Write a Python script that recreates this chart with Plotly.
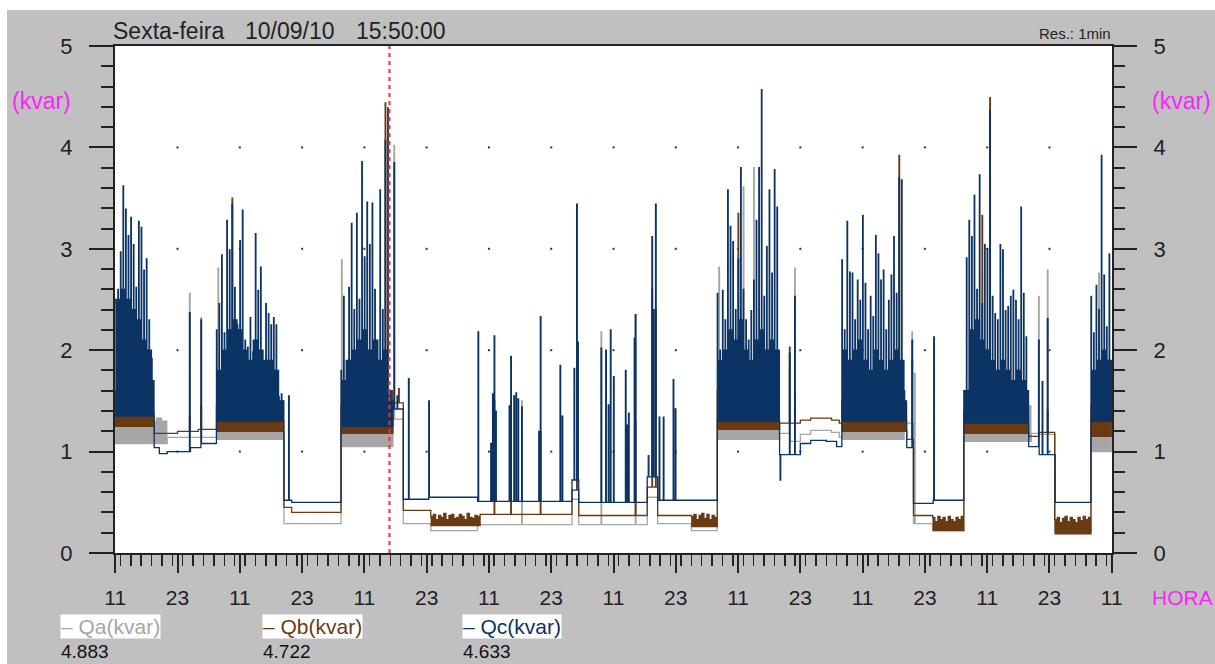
import numpy as np
import pandas as pd
import plotly.graph_objects as go

# ---------------- time frame ----------------
START = "2010-09-08 11:00"      # first tick (11h)
END = "2010-09-16 11:00"        # last tick (11h)
SPAN_H = 192                     # hours shown
CURSOR = "2010-09-10 15:50"      # cursor (red dashed line)

# ---------------- Qc (kvar) : dark blue ----------------
qc_lvl_h = [0, 7.5, 8.5, 10, 14.5, 16.5, 19.5, 32.5, 34, 43.5, 53.5, 55.5, 60.4, 69.8, 88.0, 89.3,
            102.5, 104.5, 116, 128, 132, 134, 137, 139, 140, 152.5, 153.8, 157.6, 163.5, 176, 178,
            181.1, 188]
qc_lvl_v = [1.35, 1.04, 0.98, 1.0, 1.04, 1.08, 1.3, 0.52, 0.5, 1.25, 1.42, 0.53, 0.55, 0.51, 0.72, 0.50,
            0.75, 0.52, 1.3, 0.97, 1.08, 1.11, 1.1, 1.05, 1.3, 1.04, 0.49, 0.52, 1.28, 1.05, 0.97,
            0.50, 1.3]
qc_burst_h = [0, 19.5, 43.5, 116, 140, 163.5, 188]
qc_burst_floor = [1.35, 1.3, 1.25, 1.3, 1.3, 1.28, 1.3]
# half-hour spike tops
qc_peaks_wed1 = [2.45, 2.6, 2.97, 3.62, 3.39, 3.13, 3.31, 3.04, 2.62, 3.27, 3.21, 2.79, 2.9, 2.3, 1.92]
qc_peaks_thu1 = [2.2, 2.46, 2.94, 2.17, 3.28, 2.99, 3.44, 2.62, 2.25, 3.08, 3.38, 2.1, 2.03, 2.32, 1.98,
                 3.15, 2.59, 2.82, 1.77, 2.46, 2.36, 2.25, 2.32, 2.25, 1.54, 1.57]
qc_peaks_fri = [1.8, 2.53, 1.9, 2.62, 3.25, 2.4, 3.35, 2.5, 3.86, 2.92, 3.46, 3.04, 3.45, 2.6, 2.1,
                3.58, 2.4, 4.07, 4.39, 1.6]
qc_peaks_mon = [2.56, 2.0, 2.59, 2.3, 3.58, 3.22, 3.07, 2.4, 2.9, 3.8, 2.6, 2.3, 2.1, 2.39, 2.69, 3.28,
                3.8, 4.57, 2.53, 3.02, 3.58, 2.76, 3.78, 3.41]
qc_peaks_tue = [2.89, 2.2, 3.27, 2.77, 2.76, 2.3, 2.69, 2.49, 3.33, 2.66, 2.2, 2.53, 2.33, 3.13, 2.95,
                2.69, 2.79, 2.2, 2.49, 2.74, 3.12, 2.56, 3.7, 3.68, 1.6]
qc_peaks_wed2 = [1.6, 2.91, 3.28, 3.12, 3.53, 2.6, 3.73, 2.46, 3.04, 3.0, 4.37, 2.53, 2.36, 2.3, 3.04,
                 2.99, 2.39, 2.43, 2.53, 2.59, 2.49, 2.3, 3.41, 2.56, 2.13]
qc_peaks_thu2 = [2.53, 2.17, 2.64, 2.4, 3.92, 2.74, 2.23, 2.95]
# hourly top of the dense blue band
qc_band_wed1 = [2.5, 2.6, 2.5, 2.4, 2.3, 2.1, 2.0, 1.7]
qc_band_thu1 = [1.8, 2.0, 2.2, 2.3, 2.2, 2.0, 1.9, 2.1, 2.0, 1.9, 1.9, 1.8, 1.5]
qc_band_fri = [1.7, 1.9, 2.0, 2.1, 2.2, 2.0, 2.1, 1.9, 2.0, 1.5]
qc_band_mon = [1.9, 2.0, 2.2, 2.1, 2.3, 2.0, 1.9, 2.1, 2.2, 2.0, 2.1, 2.0]
qc_band_tue = [2.0, 1.9, 2.0, 2.1, 1.9, 1.8, 2.0, 1.9, 1.8, 1.9, 2.0, 1.9, 1.5]
qc_band_wed2 = [1.6, 2.2, 2.3, 2.1, 2.0, 1.9, 1.8, 1.9, 1.8, 1.7, 1.8, 1.7, 1.6]
qc_band_thu2 = [1.8, 1.9, 2.0, 1.9]
qc_spk_h = [14.3, 16.5, 33.4, 53.7, 54.3, 56.5, 60.4, 69.9, 72.35, 72.7, 73.0, 73.3, 75.9, 76.2, 76.8,
            77.2, 77.6, 78.3, 81.6, 81.9, 85.7, 86.1, 88.4, 88.9, 89.1, 93.6, 94.5, 95.0, 95.4, 96.0,
            98.3, 98.6, 98.9, 100.0, 100.2, 102.7, 103.4, 103.7, 104.1, 104.8, 105.6, 107.5, 107.9,
            128.1, 129.9, 130.9, 153.5, 157.7, 177.9, 178.6, 179.6]
qc_spk_v = [2.37, 2.3, 1.55, 3.85, 1.55, 1.72, 1.5, 2.18, 1.08, 1.57, 2.14, 1.4, 1.45, 1.94, 1.55,
            1.58, 1.52, 1.44, 1.2, 2.33, 1.85, 1.35, 1.82, 3.44, 2.08, 2.02, 2.0, 1.46, 2.2, 1.74,
            1.8, 1.26, 1.38, 2.12, 2.35, 0.96, 3.12, 2.4, 3.44, 1.34, 1.34, 1.71, 1.42,
            0.72, 1.97, 2.53, 2.1, 2.13, 2.1, 1.69, 2.31]

# ---------------- Qb (kvar) : brown ----------------
qb_lvl_h = [0, 7.5, 12, 16, 19.5, 32.5, 34, 43.5, 53.5, 55.5, 60.8, 70.3, 88.0, 89.3, 102.5, 104.5,
            111, 116, 128, 132, 134, 138, 139.5, 140, 152.5, 153.8, 157.5, 163.5, 176, 178, 181.1, 188]
qb_lvl_v = [1.28, 1.18, 1.2, 1.22, 1.22, 0.45, 0.40, 1.2, 1.48, 0.42, 0.3, 0.38, 0.62, 0.37, 0.65, 0.37,
            0.28, 1.25, 1.28, 1.31, 1.33, 1.31, 1.28, 1.22, 1.12, 0.37, 0.25, 1.2, 1.15, 1.19, 0.22, 1.15]
qb_burst_h = [0, 19.5, 43.5, 116, 140, 163.5, 188, 60.8, 111, 157.5, 181]
qb_burst_floor = [1.25, 1.2, 1.18, 1.22, 1.2, 1.18, 1.15, 0.27, 0.26, 0.22, 0.19]
qb_peaks_wed1 = [1.6, 1.75, 2.1, 1.95, 2.05, 2.0, 2.1, 1.9, 2.0, 1.75, 1.7, 1.55, 1.5, 1.45, 1.4]
qb_peaks_thu1 = [1.45, 1.5, 1.7, 1.65, 1.8, 1.6, 1.75, 1.55, 1.7, 1.5, 1.65, 1.6, 1.5, 1.7, 1.55, 1.6,
                 1.75, 1.55, 1.5, 1.65, 1.5, 1.45, 1.55, 1.5, 1.45, 1.5]
qb_peaks_fri = [1.45, 1.4, 1.5, 1.45, 1.55, 1.5, 1.6, 1.45, 1.55, 1.5, 1.45, 1.6, 1.5, 1.45, 1.55, 1.5,
                1.45, 1.6, 1.55, 1.6]
qb_peaks_mon = [1.6, 1.5, 1.7, 1.55, 1.75, 1.6, 1.8, 1.55, 1.65, 1.7, 1.6, 1.55, 1.5, 1.6, 1.55, 1.7,
                1.6, 1.75, 1.55, 1.6, 1.65, 1.5, 1.55, 1.5]
qb_peaks_tue = [1.5, 1.45, 1.6, 1.55, 1.5, 1.65, 1.55, 1.6, 1.5, 1.55, 1.45, 1.6, 1.5, 1.55, 1.65, 1.5,
                1.6, 1.45, 1.55, 1.5, 1.6, 1.5, 1.55, 1.6, 1.45]
qb_peaks_wed2 = [1.4, 1.55, 1.6, 1.5, 1.65, 1.55, 1.6, 1.5, 1.55, 1.45, 1.6, 1.5, 1.45, 1.55, 1.5, 1.6,
                 1.45, 1.55, 1.5, 1.45, 1.55, 1.5, 1.45, 1.4, 1.35]
qb_peaks_thu2 = [1.45, 1.55, 1.5, 1.6, 1.65, 1.5, 1.45, 1.55]
qb_peaks_sat_night = [0.36, 0.38, 0.33, 0.37, 0.35, 0.39, 0.33, 0.37, 0.38, 0.34, 0.35, 0.38, 0.36, 0.33,
                      0.39, 0.35, 0.34, 0.37, 0.36]
qb_peaks_mon_dawn = [0.36, 0.38, 0.33, 0.37, 0.39, 0.34, 0.38, 0.33, 0.37, 0.35]
qb_peaks_wed_dawn = [0.35, 0.31, 0.36, 0.33, 0.35, 0.31, 0.36, 0.33, 0.31, 0.35, 0.33, 0.36]
qb_peaks_thu_dawn = [0.33, 0.35, 0.3, 0.34, 0.36, 0.31, 0.35, 0.33, 0.3, 0.35, 0.32, 0.36, 0.33, 0.35]
qb_spk_h = [14.3, 16.5, 22.5, 52.0, 54.6, 73.0, 76.2, 81.9, 88.9, 100.2, 103.4, 104.1, 120.0, 129.9,
            130.9, 151.0, 153.5, 167.0, 168.5, 179.6]
qb_spk_v = [1.35, 1.45, 3.5, 4.44, 1.62, 1.5, 1.5, 1.2, 1.55, 1.3, 2.6, 2.4, 3.35, 2.03,
            1.6, 3.92, 1.9, 3.33, 4.49, 1.4]

# ---------------- Qa (kvar) : gray ----------------
qa_lvl_h = [0, 10, 19.5, 32.5, 43.5, 53.5, 55.5, 60.8, 69.8, 88.0, 89.3, 102.5, 104.5, 111, 116, 128,
            130, 132, 134, 138, 139.5, 140, 152, 153.8, 157.5, 163.5, 176.5, 178, 181.1, 188]
qa_lvl_v = [1.1, 1.14, 1.12, 0.29, 1.05, 1.32, 0.29, 0.22, 0.28, 0.53, 0.28, 0.55, 0.29, 0.22, 1.12, 1.18,
            1.1, 1.17, 1.21, 1.19, 1.14, 1.12, 1.28, 0.29, 0.22, 1.1, 1.18, 1.17, 0.21, 1.0]
qa_burst_h = [0, 19.5, 43.5, 116, 140, 163.5, 188]
qa_burst_floor = [1.08, 1.12, 1.05, 1.12, 1.12, 1.1, 1.0]
qa_peaks_wed1 = [1.35, 1.4, 1.3, 1.38, 1.32, 1.3, 1.28, 1.3, 1.33, 1.3]
qa_peaks_thu1 = [1.3, 1.28, 1.35, 1.3, 1.32, 1.28, 1.3, 1.35, 1.3, 1.28, 1.32, 1.3, 1.28]
qa_peaks_fri = [1.25, 1.3, 1.28, 1.3, 1.25, 1.3, 1.28, 1.32, 1.3, 1.35]
qa_peaks_mon = [1.3, 1.35, 1.3, 1.32, 1.28, 1.3, 1.33, 1.3, 1.28, 1.3, 1.25, 1.28]
qa_peaks_tue = [1.28, 1.3, 1.32, 1.28, 1.3, 1.33, 1.28, 1.3, 1.32, 1.28, 1.3, 1.35]
qa_peaks_wed2 = [1.25, 1.3, 1.32, 1.28, 1.3, 1.28, 1.3, 1.32, 1.28, 1.3, 1.35, 1.4, 1.45]
qa_peaks_thu2 = [1.3, 1.28, 1.32, 1.3]
qa_spk_h = [14.3, 16.5, 19.8, 43.6, 53.7, 78.3, 93.6, 100.2, 116.3, 121.0, 123.0, 129.9, 130.9, 153.5,
            154.0, 177.9, 179.6, 189.5]
qa_spk_v = [2.56, 2.32, 2.81, 2.89, 4.02, 1.5, 2.18, 2.35, 2.82, 3.61, 3.8, 1.8, 2.81, 2.18,
            1.77, 2.53, 2.79, 2.76]

legend_names = ["Qa(kvar)", "Qb(kvar)", "Qc(kvar)"]
legend_values = ["4.883", "4.722", "4.633"]
colors = ["#A6A6A6", "#6A3A12", "#0B3363"]

# ---------------- build the 1-minute series ----------------
minutes = np.arange(SPAN_H * 60 + 1)
times = pd.Timestamp(START) + pd.to_timedelta(minutes, unit="min")


def flicker(y, a, b, top, floor, step):
    """value flickers between its top and floor inside [a, b) (dense 1-min data look)"""
    y[a:b] = floor
    for j in range(a, b, 2 * step):
        y[j:min(j + step, b)] = top


def build(lvl_h, lvl_v, b_start, b_floor, b_peaks, slot_h, spk_h, spk_v, b_band=None):
    hours = minutes / 60.0
    idx = np.searchsorted(np.asarray(lvl_h), hours, side="right") - 1
    y = np.asarray(lvl_v, dtype=float)[idx]
    n = len(y)
    slot_m = int(round(slot_h * 60))
    for bi, (h0, fl, peaks) in enumerate(zip(b_start, b_floor, b_peaks)):
        m = int(round(h0 * 60))
        for k, p in enumerate(peaks):
            end = min(m + slot_m, n)
            if b_band is None:
                flicker(y, m, end, p, fl, 5)
            else:
                band = b_band[bi][k // 2]
                y[m:min(m + 6, end)] = p
                flicker(y, min(m + 6, end), end, band, fl, 2)
            m += slot_m
    for h, v in zip(spk_h, spk_v):
        m = int(round(h * 60))
        y[m:m + 7] = v
    return y


qc = build(qc_lvl_h, qc_lvl_v, qc_burst_h, qc_burst_floor,
           [qc_peaks_wed1, qc_peaks_thu1, qc_peaks_fri, qc_peaks_mon, qc_peaks_tue, qc_peaks_wed2,
            qc_peaks_thu2], 0.5, qc_spk_h, qc_spk_v,
           b_band=[qc_band_wed1, qc_band_thu1, qc_band_fri, qc_band_mon, qc_band_tue, qc_band_wed2,
                   qc_band_thu2])
qb = build(qb_lvl_h, qb_lvl_v, qb_burst_h, qb_burst_floor,
           [qb_peaks_wed1, qb_peaks_thu1, qb_peaks_fri, qb_peaks_mon, qb_peaks_tue, qb_peaks_wed2,
            qb_peaks_thu2, qb_peaks_sat_night, qb_peaks_mon_dawn, qb_peaks_wed_dawn, qb_peaks_thu_dawn],
           0.5, qb_spk_h, qb_spk_v)
qa = build(qa_lvl_h, qa_lvl_v, qa_burst_h, qa_burst_floor,
           [qa_peaks_wed1, qa_peaks_thu1, qa_peaks_fri, qa_peaks_mon, qa_peaks_tue, qa_peaks_wed2,
            qa_peaks_thu2], 1.0, qa_spk_h, qa_spk_v)

# ---------------- figure ----------------
W, H = 1215, 664
L, R, T, B = 115, 1112, 46, 553
FONT = "Liberation Sans, Arial, sans-serif"


def px(x):
    return (x - L) / (R - L)


def py(y):
    return (B - y) / (B - T)


fig = go.Figure()

# grid dots at major x ticks and integer y values
grid_x = [pd.Timestamp(START) + pd.Timedelta(hours=12 * k) for k in range(1, 16)]
gx, gy = [], []
for yv in [1, 2, 3, 4]:
    for xv in grid_x:
        gx.append(xv)
        gy.append(yv)
fig.add_trace(go.Scatter(x=gx, y=gy, mode="markers",
                         marker=dict(symbol="square", size=2, color="#333333"),
                         hoverinfo="skip", showlegend=False))

for name, ser, col in zip(legend_names, [qa, qb, qc], colors):
    fig.add_trace(go.Scatter(x=times, y=ser, mode="lines", name=name,
                             line=dict(color=col, width=1.3, shape="hv"),
                             hoverinfo="skip", showlegend=False))

# dummy trace for right axis
fig.add_trace(go.Scatter(x=[pd.Timestamp(START)], y=[None], yaxis="y2", showlegend=False,
                         hoverinfo="skip"))

yaxis_common = dict(range=[0, 5], tickmode="linear", tick0=0, dtick=1, ticks="outside",
                    ticklen=24, tickwidth=2, tickcolor="#222222",
                    minor=dict(dtick=0.2, ticks="outside", ticklen=12, tickwidth=2,
                               tickcolor="#222222", showgrid=False),
                    showgrid=False, zeroline=False, automargin=False,
                    tickfont=dict(family=FONT, size=22, color="#222222"),
                    ticklabelstandoff=12)

fig.update_layout(
    width=W, height=H,
    margin=dict(l=L, r=W - R, t=T, b=H - B, pad=0),
    template="none",
    paper_bgcolor="#C0C0C0",
    plot_bgcolor="white",
    hovermode=False,
    showlegend=False,
    xaxis=dict(type="date",
               range=[pd.Timestamp(START) - pd.Timedelta(minutes=3),
                      pd.Timestamp(END) + pd.Timedelta(minutes=3)],
               tickmode="linear", tick0=START, dtick=12 * 3600 * 1000, tickformat="%H",
               ticks="outside", ticklen=18, tickwidth=2, tickcolor="#222222",
               minor=dict(dtick=2 * 3600 * 1000, ticks="outside", ticklen=11, tickwidth=1.5,
                          tickcolor="#222222", showgrid=False),
               showline=True, linewidth=2, linecolor="#222222", mirror=True,
               showgrid=False, zeroline=False, automargin=False,
               tickfont=dict(family=FONT, size=21, color="#222222"),
               ticklabelstandoff=7),
    yaxis=dict(showline=True, linewidth=2, linecolor="#222222", mirror=True, **yaxis_common),
    yaxis2=dict(overlaying="y", side="right", showline=False, **yaxis_common),
)

# thin white strips along the top and left page edges
fig.add_shape(type="rect", xref="paper", yref="paper", layer="below",
              x0=px(-5), x1=px(W + 5), y0=py(10), y1=py(-5),
              fillcolor="white", line=dict(width=0))
fig.add_shape(type="rect", xref="paper", yref="paper", layer="below",
              x0=px(-5), x1=px(7), y0=py(H + 5), y1=py(-5),
              fillcolor="white", line=dict(width=0))

# cursor line
fig.add_shape(type="line", xref="x", yref="paper", x0=CURSOR, x1=CURSOR, y0=0, y1=1,
              line=dict(color="#FF2A2A", width=2, dash="4px,4px"), layer="above")


def text(s, x, y, size=21, color="#222222", xanchor="left", bg=None):
    fig.add_annotation(text=s, x=px(x), y=py(y), xref="paper", yref="paper",
                       xanchor=xanchor, yanchor="middle", showarrow=False,
                       font=dict(family=FONT, size=size, color=color),
                       bgcolor=bg, borderpad=0)


text("Sexta-feira", 112, 31, size=23)
text("10/09/10", 244, 31, size=23)
text("15:50:00", 355, 31, size=23)
text("Res.: 1min", 1112, 33, size=15, xanchor="right")
text("(kvar)", 11, 101, size=23, color="#FF22FF")
text("(kvar)", 1151, 101, size=23, color="#FF22FF")
text("HORA", 1151, 597, size=21, color="#FF22FF")

leg_x = [60, 262, 462]
for lx, name, val, col in zip(leg_x, legend_names, legend_values, colors):
    text("\u2013 " + name, lx, 626, size=21, color=col, bg="white")
    text(val, lx, 651, size=19, color="#111111")

fig.write_html("out.html", config={"displayModeBar": False, "staticPlot": True},
               post_script="document.body.style.margin='0px';document.body.style.overflow='hidden';")
